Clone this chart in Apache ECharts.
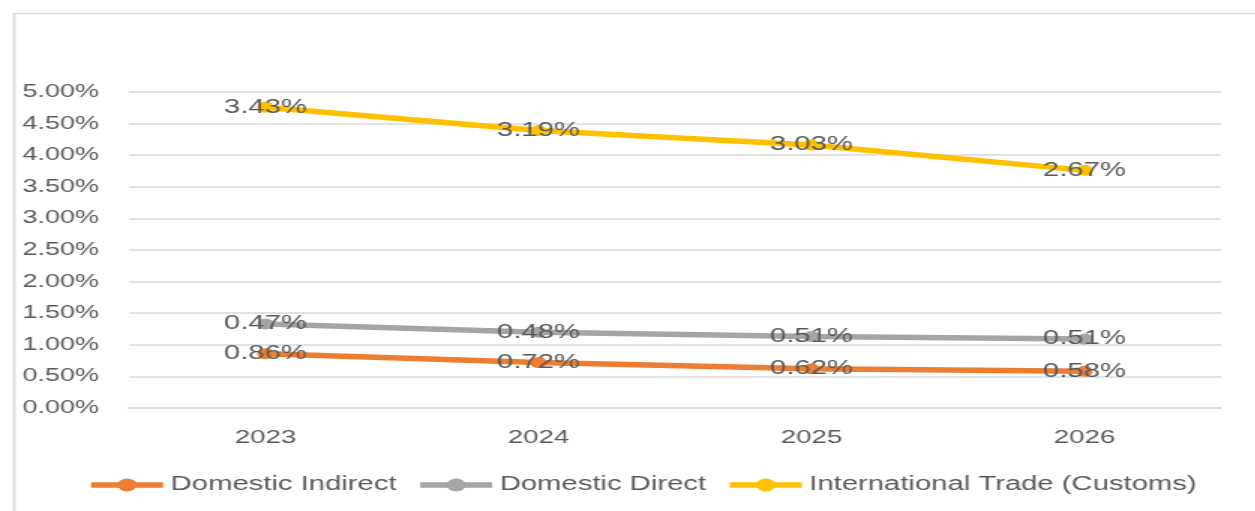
<!DOCTYPE html>
<html>
<head>
<meta charset="utf-8">
<script src="https://cdn.jsdelivr.net/npm/echarts@6/dist/echarts.min.js"></script>
<style>
html,body{margin:0;padding:0;background:#fff;overflow:hidden;}
#wrap{width:1255px;height:511px;overflow:hidden;position:relative;}
#chart{width:837px;height:511px;transform:scaleX(1.5);transform-origin:0 0;position:absolute;left:0;top:0;}
</style>
</head>
<body>
<div id="wrap"><div id="chart"></div></div>
<script>
const categories = ['2023', '2024', '2025', '2026'];
const domesticIndirect = [0.86, 0.72, 0.62, 0.58];
const domesticDirect = [0.47, 0.48, 0.51, 0.51];
const internationalTrade = [3.43, 3.19, 3.03, 2.67];
const seriesNames = ['Domestic Indirect', 'Domestic Direct', 'International Trade (Customs)'];
const colors = ['#ED7D31', '#A5A5A5', '#FFC000'];

const font = 'Liberation Sans, Arial, sans-serif';
const txt = '#595959';

function mk(name, data, color) {
  return {
    name: name, type: 'line', stack: 'total', data: data,
    symbol: 'circle', symbolSize: 11,
    itemStyle: {color: color},
    lineStyle: {color: color, width: 5.5},
    label: {
      show: true, position: 'inside', color: txt, fontSize: 19.5, fontFamily: font,
      formatter: p => p.value.toFixed(2) + '%'
    },
    emphasis: {disabled: true},
    animation: false
  };
}

const chart = echarts.init(document.getElementById('chart'), null, {renderer: 'canvas'});
chart.setOption({
  animation: false,
  graphic: [{
    type: 'rect', left: 7, top: 11, silent: true,
    shape: {x: 0, y: 0, width: 900, height: 600},
    style: {fill: 'none', stroke: '#d9d9d9', lineWidth: 1.6}
  }],
  grid: {left: 86, right: 23, top: 92, bottom: 103, containLabel: false},
  legend: {
    left: 53, top: 470, itemWidth: 48, itemHeight: 16, itemGap: 13,
    textStyle: {color: txt, fontSize: 19.5, fontFamily: font},
    lineStyle: {width: 5.5},
    data: seriesNames
  },
  xAxis: {
    type: 'category', data: categories, boundaryGap: true,
    axisLine: {lineStyle: {color: '#d9d9d9', width: 1.5}},
    axisTick: {show: false},
    axisLabel: {color: txt, fontSize: 18.5, fontFamily: font, margin: 20}
  },
  yAxis: {
    type: 'value', min: 0, max: 5, interval: 0.5,
    axisLine: {show: false}, axisTick: {show: false},
    splitLine: {lineStyle: {color: '#d9d9d9', width: 1.5}},
    axisLabel: {color: txt, fontSize: 18, fontFamily: font, margin: 20,
      formatter: v => v.toFixed(2) + '%'}
  },
  series: [
    mk(seriesNames[0], domesticIndirect, colors[0]),
    mk(seriesNames[1], domesticDirect, colors[1]),
    mk(seriesNames[2], internationalTrade, colors[2])
  ]
});
</script>
</body>
</html>
